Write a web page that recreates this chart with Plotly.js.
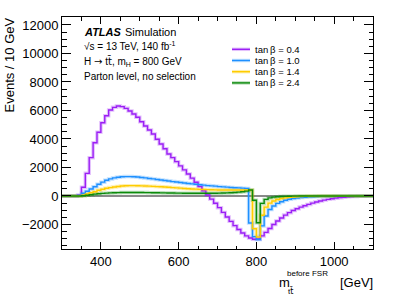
<!DOCTYPE html>
<html>
<head>
<meta charset="utf-8">
<script src="https://cdn.plot.ly/plotly-3.0.1.min.js"></script>
<style>html,body{margin:0;padding:0;background:#fff;}#chart{width:415px;height:298px;}</style>
</head>
<body>
<div id="chart"></div>
<script>
// bin low edges (GeV), 10 GeV bins
const binLowEdges = [
  300,310,320,330,340,350,360,370,380,390,
  400,410,420,430,440,450,460,470,480,490,
  500,510,520,530,540,550,560,570,580,590,
  600,610,620,630,640,650,660,670,680,690,
  700,710,720,730,740,750,760,770,780,790,
  800,810,820,830,840,850,860,870,880,890,
  900,910,920,930,940,950,960,970,980,990,
  1000,1010,1020,1030,1040,1050,1060,1070,1080,1090
];
const binWidth = 10;

const seriesNames = ["tan\u2009\u03b2 = 0.4", "tan\u2009\u03b2 = 1.0", "tan\u2009\u03b2 = 1.4", "tan\u2009\u03b2 = 2.4"];

const eventsTanB04 = [
  0,0,0,0,60,610,1590,2690,3740,4470,
  5140,5630,6030,6220,6310,6270,6150,5960,5750,5520,
  5210,4910,4630,4350,3980,3650,3320,2950,2690,2410,
  2110,1830,1540,1250,960,660,360,70,-220,-510,
  -820,-1150,-1470,-1780,-2080,-2350,-2600,-2800,-2950,-3040,
  -3010,-2800,-2550,-2280,-2000,-1760,-1540,-1340,-1170,-1020,
  -900,-780,-680,-590,-500,-420,-350,-290,-235,-190,
  -150,-115,-85,-62,-44,-30,-19,-10,-4,-1
];
const eventsTanB10 = [
  0,0,0,0,30,190,330,490,650,820,
  970,1100,1200,1270,1320,1350,1360,1360,1350,1330,
  1300,1270,1230,1200,1160,1120,1090,1050,1010,980,
  950,910,880,850,820,790,760,730,710,690,
  660,640,620,600,580,570,550,530,-1900,-2850,
  -3050,-2100,-1400,-950,-700,-520,-400,-300,-230,-180,
  -140,-110,-85,-65,-50,-40,-30,-22,-16,-12,
  -8,-6,-4,-3,-2,-1,-1,0,0,0
];
const eventsTanB14 = [
  0,0,0,0,0,60,140,230,300,400,
  470,540,590,630,670,700,715,725,725,720,
  710,700,690,675,660,645,630,610,590,570,
  550,530,510,495,480,465,455,445,435,430,
  425,420,418,416,415,415,415,420,400,-2300,
  -2880,-1350,-780,-500,-350,-250,-180,-130,-95,-70,
  -50,-38,-28,-20,-15,-10,-7,-5,-3,-2,
  -1,-1,0,0,0,0,0,0,0,0
];
const eventsTanB24 = [
  0,0,0,0,0,20,50,90,130,160,
  185,200,215,225,235,240,245,245,245,245,
  240,238,235,230,225,220,215,210,205,200,
  198,195,192,190,188,188,188,190,192,195,
  200,205,215,225,240,270,300,340,420,-300,
  -1880,-520,-240,-130,-80,-50,-35,-25,-18,-12,
  -8,-6,-4,-3,-2,-1,-1,0,0,0,
  0,0,0,0,0,0,0,0,0,0
];

const seriesValues = [eventsTanB04, eventsTanB10, eventsTanB14, eventsTanB24];
const lineColors = ["#9b1ff5", "#1e90ff", "#ffcc00", "#0b8a0b"];
const haloColors = ["rgba(155,31,245,0.28)", "rgba(30,144,255,0.28)", "rgba(255,204,0,0.32)", "rgba(11,138,11,0.28)"];

const edgesX = binLowEdges.concat([binLowEdges[binLowEdges.length - 1] + binWidth]);
const traces = [];
seriesValues.forEach((vals, i) => {
  const ys = vals.concat([vals[vals.length - 1]]);
  traces.push({x: edgesX, y: ys, type: 'scatter', mode: 'lines', line: {shape: 'hv', color: haloColors[i], width: 3.5}, hoverinfo: 'skip', showlegend: false});
});
seriesValues.forEach((vals, i) => {
  const ys = vals.concat([vals[vals.length - 1]]);
  traces.push({x: edgesX, y: ys, type: 'scatter', mode: 'lines', name: seriesNames[i], line: {shape: 'hv', color: lineColors[i], width: 1.4}, showlegend: false});
});

// layout geometry (pixels)
const W = 415, H = 298, L = 62, R = 42, T = 17, B = 49;
const pw = W - L - R, ph = H - T - B;
const px = X => (X - L) / pw;
const py = Y => (H - B - Y) / ph;
const font = "Liberation Sans, Arial, Helvetica, sans-serif";
const dj = s => "<span style=\"font-family:DejaVu Sans\">" + s + "</span>";

const annotations = [
  {text: "<b><i>ATLAS</i></b>", x: px(83), y: py(31.5), xanchor: 'left', yanchor: 'middle', size: 11},
  {text: "Simulation", x: px(123.5), y: py(31.5), xanchor: 'left', yanchor: 'middle', size: 11},
  {text: "\u221as = 13 TeV, 140 fb<sup>-1</sup>", x: px(83), y: py(46), xanchor: 'left', yanchor: 'middle', size: 10},
  {text: "H " + dj("\u2192") + " t" + dj("t\u0304") + ", m<sub>H</sub> = 800 GeV", x: px(83), y: py(61), xanchor: 'left', yanchor: 'middle', size: 10},
  {text: "Parton level, no selection", x: px(83), y: py(76.5), xanchor: 'left', yanchor: 'middle', size: 10},
  {text: "Events / 10 GeV", x: px(9), y: 1, xanchor: 'center', yanchor: 'top', size: 13, textangle: -90},
  {text: "m", x: px(277.5), y: py(282.5), xanchor: 'left', yanchor: 'middle', size: 13},
  {text: "before FSR", x: px(285.5), y: py(273.5), xanchor: 'left', yanchor: 'middle', size: 8},
  {text: "t" + dj("t\u0304"), x: px(286.5), y: py(291), xanchor: 'left', yanchor: 'middle', size: 8},
  {text: "[GeV]", x: px(374), y: py(282.5), xanchor: 'right', yanchor: 'middle', size: 13}
].map(a => ({text: a.text, x: a.x, y: a.y, xref: 'paper', yref: 'paper', xanchor: a.xanchor, yanchor: a.yanchor,
  showarrow: false, textangle: a.textangle || 0, font: {family: font, size: a.size, color: '#000'}, borderpad: 0}));

const legendY = [49.3, 60.5, 71.7, 82.9];
const shapes = [];
seriesNames.forEach((n, i) => {
  shapes.push({type: 'line', xref: 'paper', yref: 'paper', x0: px(232), x1: px(250), y0: py(legendY[i]), y1: py(legendY[i]), line: {color: haloColors[i], width: 3.5}});
  shapes.push({type: 'line', xref: 'paper', yref: 'paper', x0: px(232), x1: px(250), y0: py(legendY[i]), y1: py(legendY[i]), line: {color: lineColors[i], width: 1.4}});
  annotations.push({text: n, x: px(254), y: py(legendY[i]), xref: 'paper', yref: 'paper', xanchor: 'left', yanchor: 'middle', showarrow: false, font: {family: font, size: 9.5, color: '#000'}, borderpad: 0});
});

const layout = {
  width: W, height: H,
  margin: {l: L, r: R, t: T, b: B, pad: 0},
  paper_bgcolor: '#fff', plot_bgcolor: '#fff',
  showlegend: false,
  font: {family: font, size: 13, color: '#000'},
  xaxis: {
    range: [300, 1100], tickmode: 'linear', tick0: 0, dtick: 200,
    ticks: 'inside', ticklen: 7, tickwidth: 1, tickcolor: '#000',
    minor: {dtick: 50, tick0: 0, ticks: 'inside', ticklen: 3.5, tickwidth: 1, tickcolor: '#000', showgrid: false},
    showline: true, linecolor: '#000', linewidth: 1, mirror: 'ticks',
    showgrid: false, zeroline: false, tickformat: 'd',
    tickfont: {family: font, size: 13, color: '#000'}
  },
  yaxis: {
    range: [-3720, 12560], tickmode: 'linear', tick0: 0, dtick: 2000,
    ticks: 'inside', ticklen: 9, tickwidth: 1, tickcolor: '#000',
    minor: {dtick: 500, tick0: 0, ticks: 'inside', ticklen: 4.5, tickwidth: 1, tickcolor: '#000', showgrid: false},
    showline: true, linecolor: '#000', linewidth: 1, mirror: 'ticks',
    showgrid: false, zeroline: true, zerolinecolor: '#8a8a8a', zerolinewidth: 1.5,
    tickformat: 'd',
    tickfont: {family: font, size: 13, color: '#000'}
  },
  annotations: annotations,
  shapes: shapes
};

Plotly.newPlot('chart', traces, layout, {staticPlot: true, displayModeBar: false});
</script>
</body>
</html>
